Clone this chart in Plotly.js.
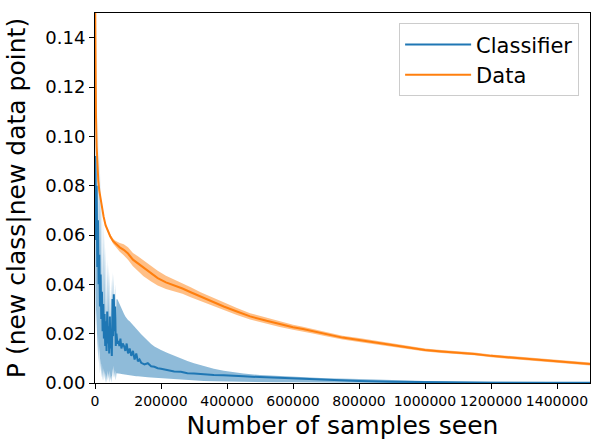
<!DOCTYPE html>
<html>
<head>
<meta charset="utf-8">
<script src="https://cdn.plot.ly/plotly-3.0.1.min.js"></script>
<style>
  html, body { margin: 0; padding: 0; background: #fff; }
  #chart { width: 603px; height: 446px; }
</style>
</head>
<body>
<div id="chart"></div>
<script>
// ─── data ────────────────────────────────────────────────────
var clsX = [1000, 3000, 5000, 7000, 9000, 11000, 13000, 15000, 17000, 19000, 21000, 23000, 25000, 27000, 29000, 31000, 33000,
  35000, 37000, 39000, 41000, 43000, 45000, 47000, 49000, 51000, 53000, 55000, 57000, 59000, 61000, 63000, 65000,
  68000, 71000, 74000, 77000, 80000, 84000, 88000, 92000, 96000, 100000,
  105000, 110000, 115000, 120000, 125000, 130000, 135000, 140000,
  150000, 160000, 170000, 180000, 190000, 200000,
  220000, 240000, 260000, 280000, 300000,
  330000, 360000, 390000, 420000, 450000,
  500000, 550000, 600000, 650000, 700000,
  800000, 900000, 1000000, 1100000, 1200000, 1300000, 1400000, 1500000];
var clsMean = [0.092, 0.058, 0.080, 0.047, 0.066, 0.040, 0.052, 0.031, 0.044, 0.026, 0.037, 0.021, 0.032, 0.018, 0.028, 0.015, 0.025,
  0.013, 0.029, 0.016, 0.023, 0.012, 0.027, 0.014, 0.021, 0.011, 0.034, 0.019, 0.036, 0.021, 0.031, 0.015, 0.020,
  0.016, 0.017, 0.015, 0.018, 0.014, 0.016, 0.015, 0.013, 0.016, 0.012,
  0.014, 0.011, 0.013, 0.0095, 0.012, 0.0088, 0.0095, 0.0082,
  0.0075, 0.0080, 0.0068, 0.0066, 0.0060, 0.0058,
  0.0052, 0.0047, 0.0046, 0.0040, 0.0039,
  0.0034, 0.0032, 0.0031, 0.0028, 0.0027,
  0.0024, 0.0021, 0.0018, 0.0014, 0.0011,
  0.0008, 0.0005, 0.0003, 0.0002, 0.00015, 0.0001, 0.0001, 0.0001];
var clsUpper = [0.140, 0.065, 0.125, 0.055, 0.110, 0.047, 0.095, 0.038, 0.085, 0.032, 0.075, 0.027, 0.065, 0.024, 0.060, 0.021, 0.055,
  0.019, 0.050, 0.022, 0.048, 0.018, 0.045, 0.020, 0.042, 0.017, 0.045, 0.025, 0.044, 0.027, 0.040, 0.022, 0.034,
  0.034, 0.033, 0.032, 0.031, 0.030, 0.029, 0.028, 0.027, 0.026, 0.0255,
  0.025, 0.0242, 0.0234, 0.0226, 0.022, 0.0213, 0.0205, 0.0198,
  0.0184, 0.0170, 0.0158, 0.0148, 0.0140, 0.0134,
  0.0122, 0.0110, 0.0099, 0.0089, 0.0080,
  0.0068, 0.0058, 0.0050, 0.0044, 0.0039,
  0.0032, 0.0028, 0.0025, 0.0022, 0.0019,
  0.0016, 0.0011, 0.0008, 0.0006, 0.0005, 0.0004, 0.0003, 0.0003];
var clsLower = [0.040, 0.020, 0.030, 0.012, 0.020, 0.008, 0.015, 0.004, 0.010, 0.002, 0.008, 0.001, 0.006, 0.001, 0.005, 0.0, 0.004,
  0.0, 0.005, 0.001, 0.004, 0.0, 0.005, 0.001, 0.003, 0.0, 0.006, 0.002, 0.007, 0.002, 0.005, 0.001, 0.004,
  0.0040, 0.0039, 0.0038, 0.0037, 0.0036, 0.0035, 0.0034, 0.0033, 0.0032, 0.0031,
  0.0030, 0.0029, 0.0029, 0.0028, 0.0027, 0.0027, 0.0026, 0.0026,
  0.0025, 0.0023, 0.0022, 0.0021, 0.0020, 0.0019,
  0.0017, 0.0015, 0.0013, 0.0011, 0.0010,
  0.0008, 0.0007, 0.0006, 0.0005, 0.0005,
  0.0004, 0.0003, 0.0003, 0.0002, 0.0002,
  0.0001, 0.0001, 0.0, 0.0, 0.0, 0.0, 0.0, 0.0];

var dataX = [500, 1500, 3000, 5000, 7000, 10000, 13000, 16000, 20000, 26000, 32000, 40000, 46000, 55000, 62000,
  75000, 87000, 100000, 115000, 130000, 147000, 170000, 190000, 215000, 240000, 265000, 290000, 320000, 350000,
  390000, 430000, 470000, 520000, 560000, 600000,
  630000, 660000, 700000, 750000, 800000, 850000, 900000, 950000, 1000000, 1050000, 1100000, 1150000, 1200000,
  1250000, 1300000, 1350000, 1400000, 1450000, 1500000];
var dataMean = [0.155, 0.125, 0.108, 0.096, 0.088, 0.082, 0.078, 0.0755, 0.072, 0.0675, 0.064, 0.0615, 0.0595, 0.0575, 0.0565,
  0.055, 0.054, 0.0525, 0.050, 0.0485, 0.0465, 0.0443, 0.0425, 0.0408, 0.0396, 0.0383, 0.0368, 0.0350, 0.0333,
  0.0310, 0.0290, 0.0270, 0.0252, 0.0238, 0.0226,
  0.0219, 0.0210, 0.0198, 0.0184, 0.0174, 0.0164, 0.0154, 0.0143, 0.0134, 0.0128, 0.0124, 0.0118, 0.0110,
  0.0104, 0.0098, 0.0093, 0.0087, 0.0082, 0.0077];
var dataUpper = [0.156, 0.1258, 0.1086, 0.0965, 0.0885, 0.0825, 0.0785, 0.076, 0.0725, 0.068, 0.0646, 0.0622, 0.0603, 0.0585, 0.0577,
  0.0568, 0.0562, 0.055, 0.0527, 0.0514, 0.0497, 0.0475, 0.0455, 0.0435, 0.0420, 0.0404, 0.0388, 0.0368, 0.0350,
  0.0325, 0.0304, 0.0283, 0.0264, 0.0249, 0.0236,
  0.0228, 0.0219, 0.0206, 0.0192, 0.0182, 0.0171, 0.0161, 0.0150, 0.0140, 0.0134, 0.0130, 0.0124, 0.0116,
  0.0110, 0.0104, 0.0099, 0.0093, 0.0088, 0.0083];
var dataLower = [0.154, 0.1242, 0.1074, 0.0955, 0.0875, 0.0815, 0.0775, 0.075, 0.0715, 0.067, 0.0634, 0.0608, 0.0587, 0.0565, 0.0553,
  0.0532, 0.0518, 0.050, 0.0473, 0.0456, 0.0433, 0.0411, 0.0395, 0.0381, 0.0372, 0.0362, 0.0348, 0.0332, 0.0316,
  0.0295, 0.0276, 0.0257, 0.0240, 0.0227, 0.0216,
  0.0210, 0.0201, 0.0190, 0.0176, 0.0166, 0.0157, 0.0147, 0.0136, 0.0128, 0.0122, 0.0118, 0.0112, 0.0104,
  0.0098, 0.0092, 0.0087, 0.0081, 0.0076, 0.0071];

var BLUE = '#1f77b4';
var ORANGE = '#ff7f0e';
var FONT = 'DejaVu Sans, Liberation Sans, sans-serif';

// band = lower edge (no line) + upper edge filled down to it
function band(x, lo, hi, fill) {
  return [
    { type: 'scatter', mode: 'lines', x: x, y: lo, line: { width: 0 }, showlegend: false, hoverinfo: 'skip' },
    { type: 'scatter', mode: 'lines', x: x, y: hi, line: { width: 0 }, fill: 'tonexty', fillcolor: fill,
      showlegend: false, hoverinfo: 'skip' }
  ];
}

var traces = []
  .concat(band(clsX, clsLower, clsUpper, 'rgba(31,119,180,0.5)'))
  .concat([{ type: 'scatter', mode: 'lines', name: 'Classifier', x: clsX, y: clsMean,
    line: { color: BLUE, width: 2 } }])
  .concat(band(dataX, dataLower, dataUpper, 'rgba(255,127,14,0.5)'))
  .concat([{ type: 'scatter', mode: 'lines', name: 'Data', x: dataX, y: dataMean,
    line: { color: ORANGE, width: 2 } }]);

var layout = {
  width: 603, height: 446,
  margin: { l: 95, r: 13, t: 13, b: 63, pad: 0 },
  paper_bgcolor: '#fff', plot_bgcolor: '#fff',
  font: { family: FONT, color: '#000' },
  showlegend: true,
  legend: {
    x: 0.978, y: 0.972, xanchor: 'right', yanchor: 'top', traceorder: 'normal',
    itemwidth: 66,
    bgcolor: 'rgba(255,255,255,0.8)', bordercolor: '#cccccc', borderwidth: 1,
    font: { size: 21, family: FONT }
  },
  xaxis: {
    range: [0, 1500000], dtick: 200000, tick0: 0, tickformat: 'd',
    showgrid: false, zeroline: false, showline: true, linecolor: '#000', linewidth: 1, mirror: true,
    ticks: 'outside', ticklen: 5, tickcolor: '#000', tickfont: { size: 14 },
    title: { text: 'Number of samples seen', font: { size: 25 }, standoff: 8 }
  },
  yaxis: {
    range: [0, 0.15], dtick: 0.02, tick0: 0, tickformat: '.2f',
    showgrid: false, zeroline: false, showline: true, linecolor: '#000', linewidth: 1, mirror: true,
    ticks: 'outside', ticklen: 5, tickcolor: '#000', tickfont: { size: 18 },
    title: { text: 'P (new class|new data point)', font: { size: 25 }, standoff: 12 }
  }
};

Plotly.newPlot('chart', traces, layout, { displayModeBar: false, staticPlot: true });
</script>
</body>
</html>
